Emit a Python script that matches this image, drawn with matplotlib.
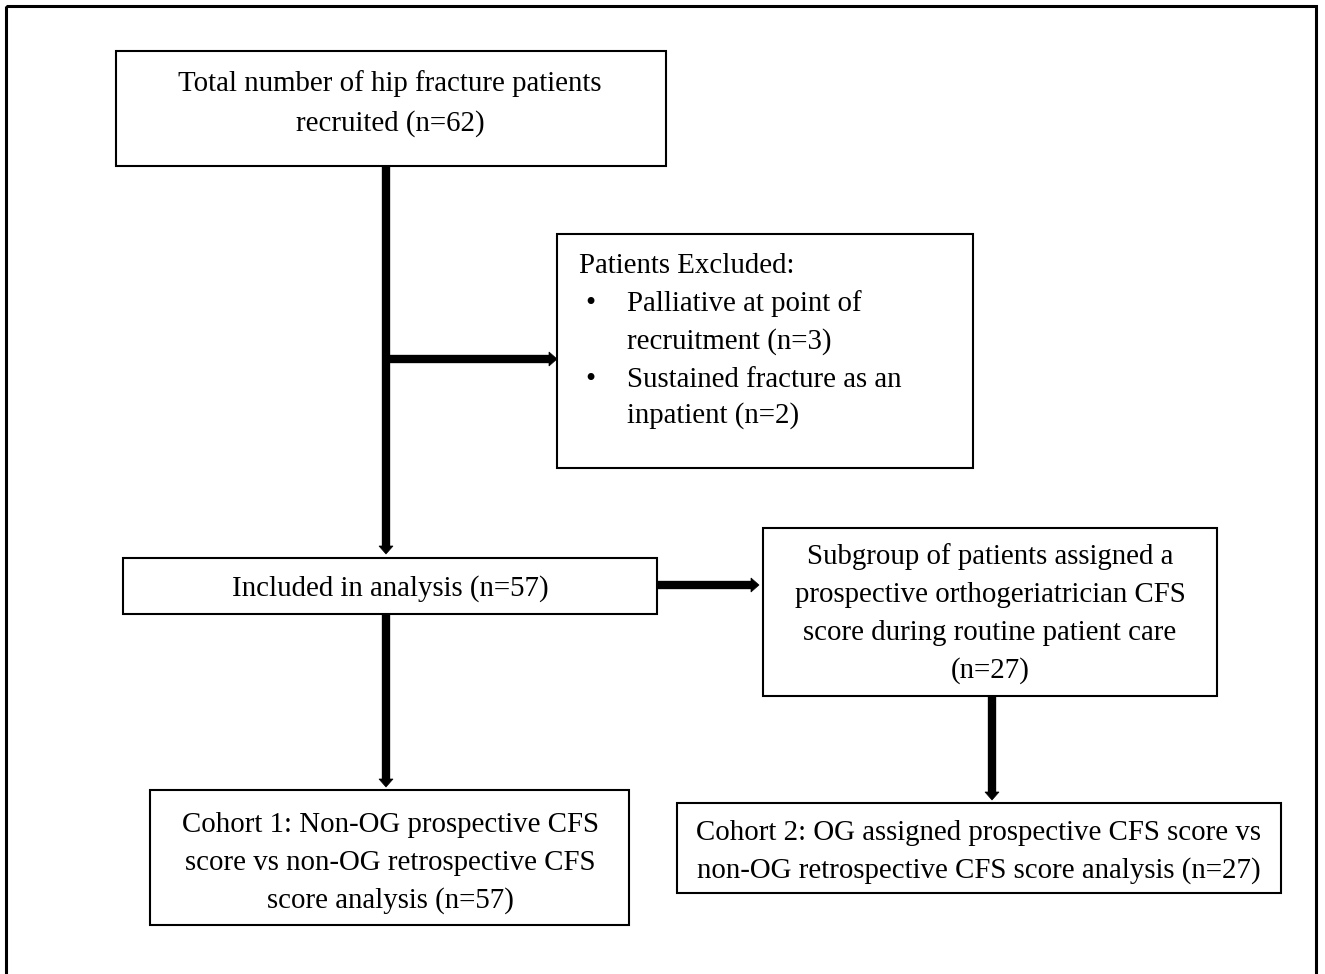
import matplotlib
matplotlib.use("Agg")
import matplotlib.pyplot as plt
from matplotlib.patches import Rectangle, Polygon

W, H = 1325, 974
fig = plt.figure(figsize=(W / 100, H / 100), dpi=100)
ax = fig.add_axes([0, 0, 1, 1])
ax.set_xlim(0, W)
ax.set_ylim(H, 0)
ax.axis("off")

FONT = "Liberation Serif"
FS = 20.8
DY = 3  # visual offset for va=center

# Text content
box1_lines = ["Total number of hip fracture patients", "recruited (n=62)"]
excl_title = "Patients Excluded:"
excl_items = [["Palliative at point of", "recruitment (n=3)"],
              ["Sustained fracture as an", "inpatient (n=2)"]]
incl_lines = ["Included in analysis (n=57)"]
sub_lines = ["Subgroup of patients assigned a",
             "prospective orthogeriatrician CFS",
             "score during routine patient care",
             "(n=27)"]
c1_lines = ["Cohort 1: Non-OG prospective CFS",
            "score vs non-OG retrospective CFS",
            "score analysis (n=57)"]
c2_lines = ["Cohort 2: OG assigned prospective CFS score vs",
            "non-OG retrospective CFS score analysis (n=27)"]

# outer frame
ax.add_patch(Rectangle((6, 6), 1310, 990, fill=False, lw=2.2, ec="black"))


def box(x0, y0, x1, y1):
    ax.add_patch(Rectangle((x0, y0), x1 - x0, y1 - y0, fill=False, lw=1.5, ec="black"))


def lines_c(xc, ys, lines):
    for y, t in zip(ys, lines):
        ax.text(xc, y + DY, t, ha="center", va="center", fontsize=FS, family=FONT)


LW = 6
HEAD_W = 7   # half width in px
HEAD_L = 8


def arrow(x0, y0, x1, y1):
    if x0 == x1:
        s = 1 if y1 > y0 else -1
        ax.plot([x0, x1], [y0, y1 - s * HEAD_L], color="black", lw=LW, solid_capstyle="butt")
        ax.add_patch(Polygon([(x1 - HEAD_W, y1 - s * HEAD_L), (x1 + HEAD_W, y1 - s * HEAD_L), (x1, y1)],
                             closed=True, fc="black", ec="black", lw=0.5))
    else:
        s = 1 if x1 > x0 else -1
        ax.plot([x0, x1 - s * HEAD_L], [y0, y1], color="black", lw=LW, solid_capstyle="butt")
        ax.add_patch(Polygon([(x1 - s * HEAD_L, y1 - HEAD_W), (x1 - s * HEAD_L, y1 + HEAD_W), (x1, y1)],
                             closed=True, fc="black", ec="black", lw=0.5))


# boxes
box(116, 51, 666, 166)
lines_c(390, [81, 121], box1_lines)

box(557, 234, 973, 468)
ax.text(579, 263 + DY, excl_title, ha="left", va="center", fontsize=FS, family=FONT)
ys = [301, 339, 377, 413]
k = 0
for item in excl_items:
    ax.text(590, ys[k] + DY, "\u2022", ha="center", va="center", fontsize=FS, family=FONT)
    for ln in item:
        ax.text(627, ys[k] + DY, ln, ha="left", va="center", fontsize=FS, family=FONT)
        k += 1

box(123, 558, 657, 614)
lines_c(390, [586], incl_lines)

box(763, 528, 1217, 696)
lines_c(990, [554, 592, 630, 668], sub_lines)

box(150, 790, 629, 925)
lines_c(390, [822, 860, 898], c1_lines)

box(677, 803, 1281, 893)
lines_c(979, [830, 868], c2_lines)

# connectors
ax.plot([386, 386], [166, 359], color="black", lw=LW, solid_capstyle="butt")
arrow(386, 359, 386, 554)
arrow(386, 359, 557, 359)
arrow(657, 585, 759, 585)
arrow(386, 614, 386, 787)
arrow(992, 696, 992, 800)

fig.savefig("out.png", dpi=100)
